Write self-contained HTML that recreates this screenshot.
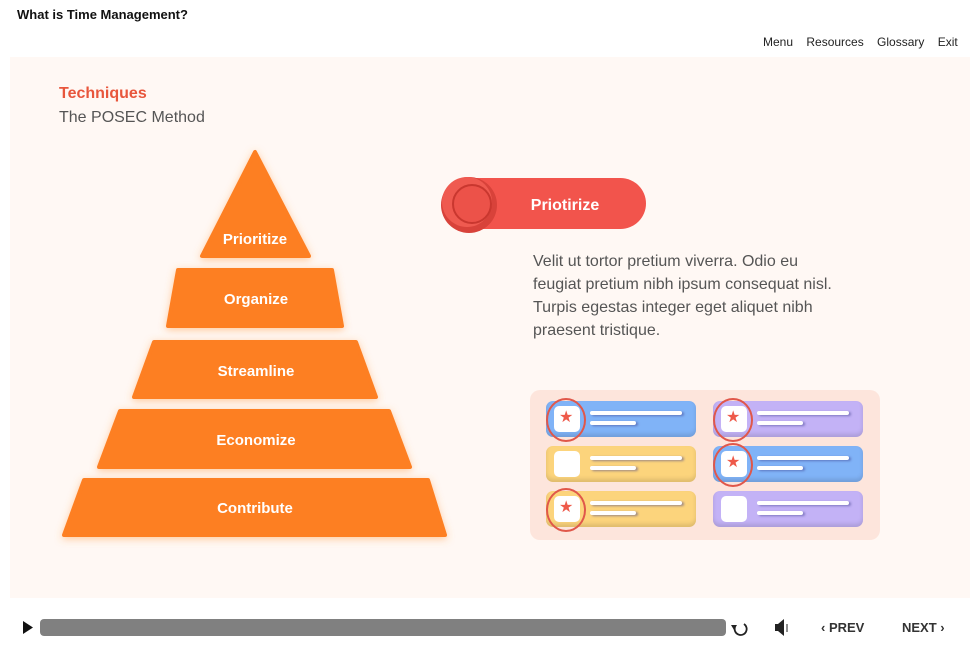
<!DOCTYPE html><html><head><style>
body{margin:0;width:980px;height:658px;background:#fff;font-family:"Liberation Sans",sans-serif;position:relative;overflow:hidden}
.a{position:absolute}
.card{position:absolute;width:150px;height:36px;border-radius:7px;box-shadow:inset 0 -3px 4px rgba(0,0,0,.12)}
.sq{position:absolute;left:8px;top:5px;width:26px;height:26px;background:#fff;border-radius:5px}
.l1{position:absolute;left:44px;top:10px;width:92px;height:4px;background:#fff;border-radius:2px;box-shadow:2px 1px 2px rgba(60,60,140,.5)}
.l2{position:absolute;left:44px;top:20px;width:46px;height:4px;background:#fff;border-radius:2px;box-shadow:2px 1px 2px rgba(60,60,140,.5)}
.st{position:absolute;left:13px;top:8px;color:#ee5a4a;font-size:16px;line-height:18px}
.ring{position:absolute;left:0;top:-3px;width:36px;height:40px;border:2px solid #e0574a;border-radius:50%}
</style></head><body>
<div class="a" style="left:17px;top:7px;font-size:13px;font-weight:bold;color:#111">What is Time Management?</div>
<div class="a" style="left:763px;top:35px;font-size:12px;color:#222;word-spacing:0">Menu&nbsp;&nbsp;&nbsp; Resources&nbsp;&nbsp;&nbsp; Glossary&nbsp;&nbsp;&nbsp; Exit</div>
<div class="a" style="left:10px;top:57px;width:960px;height:541px;background:#fff8f4"></div>
<div class="a" style="left:59px;top:85px;font-size:16px;font-weight:bold;color:#e8563c">Techniques</div>
<div class="a" style="left:59px;top:109px;font-size:16px;color:#555">The POSEC Method</div>
<svg class="a" style="left:0;top:0" width="980" height="658">
<defs><filter id="g"><feDropShadow dx="0" dy="2" stdDeviation="4" flood-color="#ff9a40" flood-opacity=".5"/></filter></defs>
<g fill="#fd7f22" filter="url(#g)" stroke="#fd7f22" stroke-width="4" stroke-linejoin="round">
<polygon points="255,152 202,256 309,256"/>
<polygon points="178,270 332,270 342,326 168,326"/>
<polygon points="154,342 356,342 376,397 134,397"/>
<polygon points="120,411 389,411 410,467 99,467"/>
<polygon points="84,480 428,480 445,535 64,535"/>
</g>
<g fill="#fff" font-weight="bold" font-size="15" text-anchor="middle" font-family="Liberation Sans,sans-serif">
<text x="255" y="244">Prioritize</text><text x="256" y="304">Organize</text><text x="256" y="376">Streamline</text><text x="256" y="445">Economize</text><text x="255" y="513">Contribute</text>
</g>
<rect x="442" y="178" width="204" height="51" rx="25.5" fill="#f2544c"/>
<circle cx="469" cy="205" r="28" fill="#d8423a"/><circle cx="467" cy="202" r="25" fill="#ef5a50"/><circle cx="472" cy="204" r="19" fill="#ec5249" stroke="#c9372f" stroke-width="2"/>
<text x="565" y="210" fill="#fff" font-weight="bold" font-size="16" text-anchor="middle" font-family="Liberation Sans,sans-serif">Priotirize</text>
<rect x="40" y="619" width="686" height="17" rx="4" fill="#808080"/>
<polygon points="23,621 23,634 33,627.5" fill="#111"/>
<path d="M744 624 A6 6 0 1 1 735 627" fill="none" stroke="#222" stroke-width="1.8"/><polygon points="731,625 737,625 734,630" fill="#222"/>
<rect x="775" y="624" width="4" height="7" fill="#222"/><polygon points="778,624 784,619 784,636 778,631" fill="#222"/><line x1="787" y1="624" x2="787" y2="632" stroke="#222"/>
</svg>
<div class="a" style="left:533px;top:250px;white-space:nowrap;font-size:16px;line-height:23px;color:#555">Velit ut tortor pretium viverra. Odio eu<br>feugiat pretium nibh ipsum consequat nisl.<br>Turpis egestas integer eget aliquet nibh<br>praesent tristique.</div>
<div class="a" style="left:530px;top:390px;width:350px;height:150px;background:#fde5dc;border-radius:10px"></div>
<div class="card" style="left:546px;top:401px;background:#80b3f7"><div class="sq"></div><div class="st">★</div><div class="ring"></div><div class="l1"></div><div class="l2"></div></div>
<div class="card" style="left:713px;top:401px;background:#c3b2f6"><div class="sq"></div><div class="st">★</div><div class="ring"></div><div class="l1"></div><div class="l2"></div></div>
<div class="card" style="left:546px;top:446px;background:#fcd47c"><div class="sq"></div><div class="l1"></div><div class="l2"></div></div>
<div class="card" style="left:713px;top:446px;background:#80b3f7"><div class="sq"></div><div class="st">★</div><div class="ring"></div><div class="l1"></div><div class="l2"></div></div>
<div class="card" style="left:546px;top:491px;background:#fcd47c"><div class="sq"></div><div class="st">★</div><div class="ring"></div><div class="l1"></div><div class="l2"></div></div>
<div class="card" style="left:713px;top:491px;background:#c3b2f6"><div class="sq"></div><div class="l1"></div><div class="l2"></div></div>
<div class="a" style="left:821px;top:620px;font-size:13px;font-weight:bold;color:#333">‹ PREV</div>
<div class="a" style="left:902px;top:620px;font-size:13px;font-weight:bold;color:#333">NEXT ›</div>
</body></html>
